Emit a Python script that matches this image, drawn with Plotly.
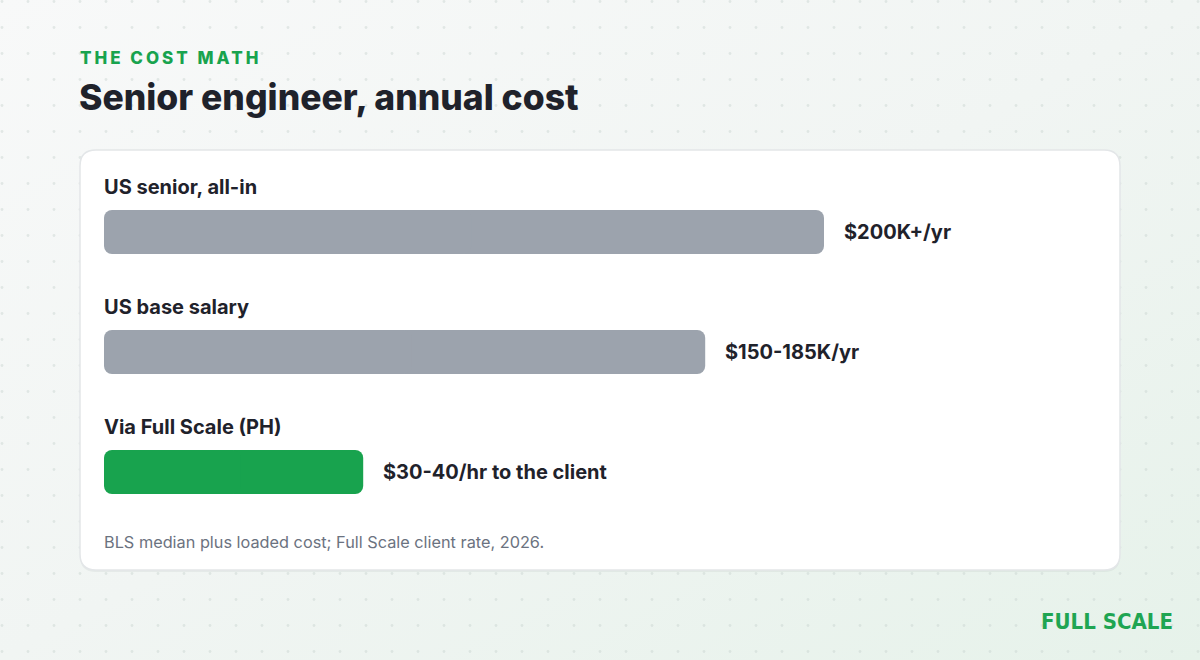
import base64
import plotly.graph_objects as go

# ---------------- data ----------------
categories = ["US senior, all-in", "US base salary", "Via Full Scale (PH)"]
values_k = [200, 167, 72]          # annual cost, $K (bar lengths)
value_labels = ["$200K+/yr", "$150-185K/yr", "$30-40/hr to the client"]
bar_colors = ["#9ca3ad", "#9ca3ad", "#18a34e"]

eyebrow = "THE COST MATH"
title = "Senior engineer, annual cost"
footnote = "BLS median plus loaded cost; Full Scale client rate, 2026."
logo = "FULL SCALE"

# ---------------- layout constants ----------------
W, H = 1200, 660
BAR_X0, BAR_FULL_PX, FULL_VAL = 104, 720, 200   # bar start px, px length of FULL_VAL
ROW0_Y, ROW_STEP, BAR_H = 232, 120, 44
FONT = "Inter, 'Noto Sans', sans-serif"
DARK = "#1f222b"
GREEN = "#18a34e"

px_per_val = BAR_FULL_PX / FULL_VAL
x_range = [-BAR_X0 / px_per_val, (W - BAR_X0) / px_per_val]
y_range = [(H - ROW0_Y) / ROW_STEP, -ROW0_Y / ROW_STEP]

def fx(px):
    return px / W

def fy(py):
    return 1 - py / H

# background gradient + dot grid as an SVG image
svg = f'''<svg xmlns="http://www.w3.org/2000/svg" width="{W}" height="{H}">
<defs>
<linearGradient id="g" x1="0" y1="0" x2="1" y2="1">
<stop offset="0" stop-color="#f8f9f9"/>
<stop offset="0.5" stop-color="#f1f5f3"/>
<stop offset="1" stop-color="#e6f2ea"/>
</linearGradient>
<pattern id="d" x="0" y="0" width="26" height="26" patternUnits="userSpaceOnUse">
<circle cx="2" cy="1.5" r="1.4" fill="#c9d3ce" fill-opacity="0.45"/>
</pattern>
</defs>
<rect width="{W}" height="{H}" fill="url(#g)"/>
<rect width="{W}" height="{H}" fill="url(#d)"/>
</svg>'''
bg_src = "data:image/svg+xml;base64," + base64.b64encode(svg.encode()).decode()

def rounded_path(x0, y0, x1, y1, r):
    pts = [
        ("M", [(x0 + r, y0)]),
        ("L", [(x1 - r, y0)]),
        ("Q", [(x1, y0), (x1, y0 + r)]),
        ("L", [(x1, y1 - r)]),
        ("Q", [(x1, y1), (x1 - r, y1)]),
        ("L", [(x0 + r, y1)]),
        ("Q", [(x0, y1), (x0, y1 - r)]),
        ("L", [(x0, y0 + r)]),
        ("Q", [(x0, y0), (x0 + r, y0)]),
    ]
    s = ""
    for cmd, ps in pts:
        s += cmd + " ".join(f"{fx(a):.5f},{fy(b):.5f}" for a, b in ps) + " "
    return s + "Z"

CARD = (80, 150, 1120, 570, 16)

rows = list(range(len(categories)))
ov = 2.0  # small overlap (in value units) so the two halves join without a seam
mids = [v / 2 for v in values_k]

fig = go.Figure()
# right half: from middle to value (rounded at value end)
fig.add_trace(go.Bar(
    x=[v - m + ov for v, m in zip(values_k, mids)],
    base=[m - ov for m in mids],
    y=rows, orientation="h", width=BAR_H / ROW_STEP,
    marker=dict(color=bar_colors, line=dict(width=0)),
    hoverinfo="skip", showlegend=False,
))
# left half: from middle back to 0 (rounded at zero end)
fig.add_trace(go.Bar(
    x=[-(m + ov) for m in mids],
    base=[m + ov for m in mids],
    y=rows, orientation="h", width=BAR_H / ROW_STEP,
    marker=dict(color=bar_colors, line=dict(width=0)),
    hoverinfo="skip", showlegend=False,
))

annotations = []
for i, (cat, val, lab) in enumerate(zip(categories, values_k, value_labels)):
    annotations.append(dict(
        x=0, y=i - 45 / ROW_STEP, xref="x", yref="y", text=cat, showarrow=False,
        xanchor="left", yanchor="middle", xshift=-2,
        font=dict(family=FONT, size=20, color=DARK, weight=700),
    ))
    annotations.append(dict(
        x=val, y=i, xref="x", yref="y", text=lab, showarrow=False,
        xanchor="left", yanchor="middle", xshift=18,
        font=dict(family=FONT, size=20, color=DARK, weight=700),
    ))

annotations += [
    dict(x=fx(78), y=fy(58), xref="paper", yref="paper",
         text=f'<span style="letter-spacing:3px">{eyebrow}</span>', showarrow=False,
         xanchor="left", yanchor="middle",
         font=dict(family=FONT, size=17, color=GREEN, weight=800)),
    dict(x=fx(77), y=fy(97), xref="paper", yref="paper", text=title, showarrow=False,
         xanchor="left", yanchor="middle",
         font=dict(family=FONT, size=35.5, color=DARK, weight=800)),
    dict(x=fx(102), y=fy(542), xref="paper", yref="paper", text=footnote, showarrow=False,
         xanchor="left", yanchor="middle",
         font=dict(family=FONT, size=16.3, color="#6b7280", weight=400)),
    dict(x=fx(1175), y=fy(621), xref="paper", yref="paper", text=logo, showarrow=False,
         xanchor="right", yanchor="middle",
         font=dict(family="'DejaVu Sans Condensed', 'Liberation Sans Narrow', sans-serif",
                   size=22, color="#1fa552", weight=600)),
]

shapes = [
    dict(type="path", xref="paper", yref="paper", layer="below",
         path=rounded_path(CARD[0], CARD[1] + 2, CARD[2], CARD[3] + 2, CARD[4]),
         fillcolor="rgba(15,40,30,0.05)", line=dict(width=0)),
    dict(type="path", xref="paper", yref="paper", layer="below",
         path=rounded_path(*CARD),
         fillcolor="#ffffff", line=dict(color="#e3e6e8", width=1.5)),
]

fig.update_layout(
    width=W, height=H, autosize=False,
    margin=dict(l=0, r=0, t=0, b=0, pad=0),
    paper_bgcolor="#f1f5f3",
    plot_bgcolor="rgba(0,0,0,0)",
    barmode="overlay",
    barcornerradius=8,
    xaxis=dict(range=x_range, domain=[0, 1], visible=False, fixedrange=True),
    yaxis=dict(range=y_range, domain=[0, 1], visible=False, fixedrange=True),
    images=[dict(source=bg_src, xref="paper", yref="paper", x=0, y=1, sizex=1, sizey=1,
                 xanchor="left", yanchor="top", sizing="stretch", layer="below")],
    shapes=shapes,
    annotations=annotations,
    showlegend=False,
)

fig.write_html(
    "out.html",
    config={"displayModeBar": False},
    post_script="document.body.style.margin='0';document.body.style.overflow='hidden';",
)
